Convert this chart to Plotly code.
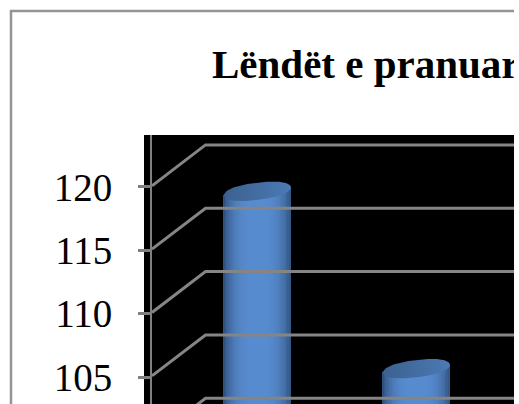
import numpy as np
import plotly.graph_objects as go

W, H = 514, 404

categories = ["Kategoria 1", "Kategoria 2"]
values = [118, 104]
y_ticks = [105, 110, 115, 120]
grid_levels = [100, 105, 110, 115, 120]
title_text = "Lëndët e pranuar"

# axis scales: x unit = one category, y unit = axis value
X_ZERO, X_LEFT, Y_TOP = 150.5, 152, 135
X_START = (X_LEFT - X_ZERO) / 159
X_END = (W - X_ZERO) / 159
Y_RANGE = [102.87, 124.1]
DEPTH_X, DEPTH_Y = 55 / 159, 3.32
BAR_W = 67 / 159
TILT = 0.3
MINOR = 0.68
LIGHT = np.array([88, 140, 208])
DARK = np.array([46, 78, 120])


def shade(t):
    # t in -1..1 across the cylinder
    k = min(1.0, abs(t - 0.02) / 1.02) ** 3.2
    c = LIGHT + (DARK - LIGHT) * k
    return "rgb(%d,%d,%d)" % tuple(c)


fig = go.Figure()

# wall gridlines
gx, gy = [], []
for v in grid_levels:
    gx += [X_START, DEPTH_X, X_END, None]
    gy += [v + DEPTH_Y * X_START / DEPTH_X, v + DEPTH_Y, v + DEPTH_Y, None]
fig.add_trace(go.Scatter(x=gx, y=gy, mode="lines", line=dict(color="#858585", width=3),
                         hoverinfo="skip", showlegend=False))

# cylinders
N = 48
for i, v in enumerate(values):
    cx = i + 0.5 + DEPTH_X / 2
    cy = v + DEPTH_Y / 2
    ts = (np.arange(N) + 0.5) / N * 2 - 1
    fig.add_trace(go.Bar(
        x=cx + ts * BAR_W / 2,
        y=cy + ts * TILT - 100,
        base=100,
        width=BAR_W / N * 1.35,
        marker=dict(color=[shade(t) for t in ts], line=dict(width=0)),
        hoverinfo="skip", showlegend=False))
    a = np.linspace(0, 2 * np.pi, 120)
    ca = np.sign(np.cos(a)) * np.abs(np.cos(a)) ** 0.8
    fig.add_trace(go.Scatter(
        x=cx + BAR_W / 2 * ca,
        y=cy + TILT * ca + MINOR * np.sin(a),
        mode="lines", fill="toself",
        fillgradient=dict(type="horizontal", colorscale=[[0, "#3b618f"], [1, "#4b7ab5"]]),
        line=dict(width=0, color="#40699c"), hoverinfo="skip", showlegend=False))


def px(x):
    return x / W


def py(y):
    return 1 - y / H


shapes = [
    dict(type="rect", xref="paper", yref="paper", x0=px(144), x1=1, y0=0, y1=py(Y_TOP),
         fillcolor="black", line=dict(width=0), layer="below"),
    dict(type="line", xref="paper", yref="paper", x0=px(11), x1=px(11), y0=0, y1=py(10),
         line=dict(color="#949494", width=2.5)),
    dict(type="line", xref="paper", yref="paper", x0=px(10), x1=1, y0=py(11), y1=py(11),
         line=dict(color="#949494", width=2.5)),
]

fig.update_layout(
    width=W, height=H, autosize=False,
    margin=dict(l=0, r=0, t=0, b=0),
    paper_bgcolor="white", plot_bgcolor="rgba(0,0,0,0)",
    barmode="overlay", bargap=0,
    shapes=shapes,
    xaxis=dict(domain=[px(X_LEFT), 1], range=[X_START, X_END], visible=False, fixedrange=True),
    yaxis=dict(domain=[0, py(Y_TOP)], range=Y_RANGE, tickmode="array", tickvals=y_ticks,
               ticks="outside", ticklen=12, tickwidth=2.5, tickcolor="#808080",
               showline=True, linecolor="#808080", linewidth=2, showgrid=False, zeroline=False,
               ticklabelstandoff=18,
               tickfont=dict(family="Liberation Serif", size=39, color="black"),
               fixedrange=True),
    annotations=[dict(text="<b>%s</b>" % title_text, xref="paper", yref="paper",
                      x=px(210), y=py(64), xanchor="left", yanchor="middle", showarrow=False,
                      font=dict(family="Liberation Serif", size=41, color="black"))],
)

fig.write_html("out.html", config={"displayModeBar": False},
               post_script="document.body.style.margin='0';document.documentElement.style.overflow='hidden';")
